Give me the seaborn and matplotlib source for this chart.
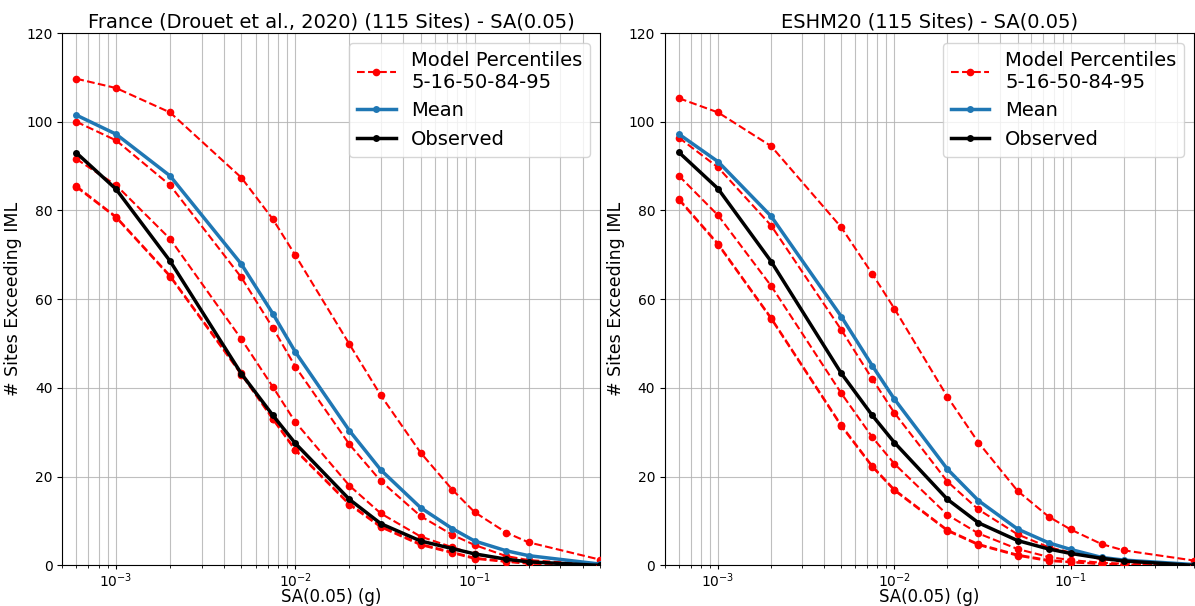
import numpy as np
import pandas as pd
import seaborn as sns
import matplotlib
matplotlib.use("Agg")
import matplotlib.pyplot as plt

# Intensity measure levels, SA(0.05) in g
iml = [6e-4, 1e-3, 2e-3, 5e-3, 7.5e-3, 1e-2, 2e-2, 3e-2, 5e-2, 7.5e-2, 0.1, 0.15, 0.2, 0.5]

# France (Drouet et al., 2020): number of sites exceeding each IML
fr_p95 = [109.7, 107.6, 102.1, 87.4, 78.0, 69.9, 49.9, 38.3, 25.4, 17.1, 12.0, 7.4, 5.2, 1.3]
fr_p84 = [100.0, 95.8, 85.7, 64.9, 53.5, 44.8, 27.3, 19.0, 11.1, 6.9, 4.6, 2.1, 1.2, 0.1]
fr_p50 = [91.6, 85.7, 73.6, 51.0, 40.2, 32.3, 18.0, 11.7, 6.5, 4.1, 2.5, 1.3, 0.8, 0.0]
fr_p16 = [85.5, 78.6, 65.3, 43.3, 33.1, 26.1, 13.9, 8.8, 4.8, 3.0, 1.7, 0.9, 0.5, 0.0]
fr_p05 = [85.3, 78.4, 65.1, 43.0, 32.9, 25.9, 13.7, 8.6, 4.6, 2.8, 1.5, 0.8, 0.4, 0.0]
fr_mean = [101.5, 97.2, 87.8, 67.9, 56.7, 48.1, 30.4, 21.5, 13.0, 8.3, 5.5, 3.3, 2.2, 0.3]
fr_obs = [93.0, 84.8, 68.6, 43.2, 33.8, 27.5, 14.9, 9.4, 5.5, 3.8, 2.6, 1.4, 0.8, 0.0]

# ESHM20
es_p95 = [105.3, 102.1, 94.5, 76.2, 65.7, 57.9, 38.0, 27.7, 16.8, 11.0, 8.1, 4.8, 3.4, 1.1]
es_p84 = [96.4, 89.7, 76.6, 53.1, 42.0, 34.4, 18.9, 12.6, 7.0, 4.1, 2.9, 1.4, 0.9, 0.1]
es_p50 = [87.8, 78.9, 63.0, 38.8, 28.9, 22.9, 11.4, 7.2, 3.7, 1.9, 1.2, 0.6, 0.4, 0.0]
es_p16 = [82.6, 72.5, 55.8, 31.6, 22.4, 17.1, 8.0, 4.8, 2.4, 1.2, 0.8, 0.4, 0.2, 0.0]
es_p05 = [82.4, 72.3, 55.6, 31.4, 22.2, 16.9, 7.8, 4.6, 2.2, 1.0, 0.7, 0.3, 0.1, 0.0]
es_mean = [97.2, 91.0, 78.7, 56.1, 45.0, 37.5, 21.7, 14.6, 8.2, 5.1, 3.6, 1.8, 1.2, 0.2]
es_obs = [93.1, 84.9, 68.5, 43.3, 33.8, 27.7, 14.9, 9.6, 5.6, 3.7, 2.7, 1.6, 1.0, 0.0]

titles = ["France (Drouet et al., 2020) (115 Sites) - SA(0.05)",
          "ESHM20 (115 Sites) - SA(0.05)"]
panels = [
    (fr_p05, fr_p16, fr_p50, fr_p84, fr_p95, fr_mean, fr_obs),
    (es_p05, es_p16, es_p50, es_p84, es_p95, es_mean, es_obs),
]

fig = plt.figure(figsize=(11.95, 6.06), dpi=100)
axes = [fig.add_axes([0.052, 0.067, 0.450, 0.8785]),
        fig.add_axes([0.5565, 0.067, 0.4425, 0.8785])]

for ax, title, data in zip(axes, titles, panels):
    p05, p16, p50, p84, p95, mean, obs = data
    for i, pct in enumerate([p05, p16, p50, p84, p95]):
        sns.lineplot(x=iml, y=pct, ax=ax, color="red", linestyle="--",
                     linewidth=1.5, marker="o", markersize=5.5,
                     markeredgecolor="red", markeredgewidth=0,
                     label="Model Percentiles\n5-16-50-84-95" if i == 0 else "_nolegend_",
                     legend=False, zorder=3)
    sns.lineplot(x=iml, y=mean, ax=ax, color="#1f77b4", linewidth=2.5,
                 marker="o", markersize=5, markeredgecolor="#1f77b4",
                 markeredgewidth=0, label="Mean", legend=False, zorder=4)
    sns.lineplot(x=iml, y=obs, ax=ax, color="black", linewidth=2.5,
                 marker="o", markersize=5, markeredgecolor="black",
                 markeredgewidth=0, label="Observed", legend=False, zorder=5)

    ax.set_xscale("log")
    ax.set_xlim(5e-4, 0.5)
    ax.set_ylim(0, 120)
    ax.set_yticks(np.arange(0, 121, 20))
    ax.grid(True, which="both", color="#b0b0b0", linewidth=0.8, alpha=0.8)
    ax.set_axisbelow(True)
    ax.set_title(title, fontsize=14, pad=4)
    ax.set_xlabel("SA(0.05) (g)", fontsize=12, labelpad=-1)
    ax.set_ylabel("# Sites Exceeding IML", fontsize=12.5, labelpad=3)
    ax.tick_params(axis="both", labelsize=10)
    ax.tick_params(axis="x", which="major", length=3, pad=1)
    ax.tick_params(axis="x", which="minor", length=2)
    ax.legend(loc="upper right", fontsize=14, handlelength=2.0,
              borderaxespad=0.5)

fig.savefig("out.png", dpi=100)
